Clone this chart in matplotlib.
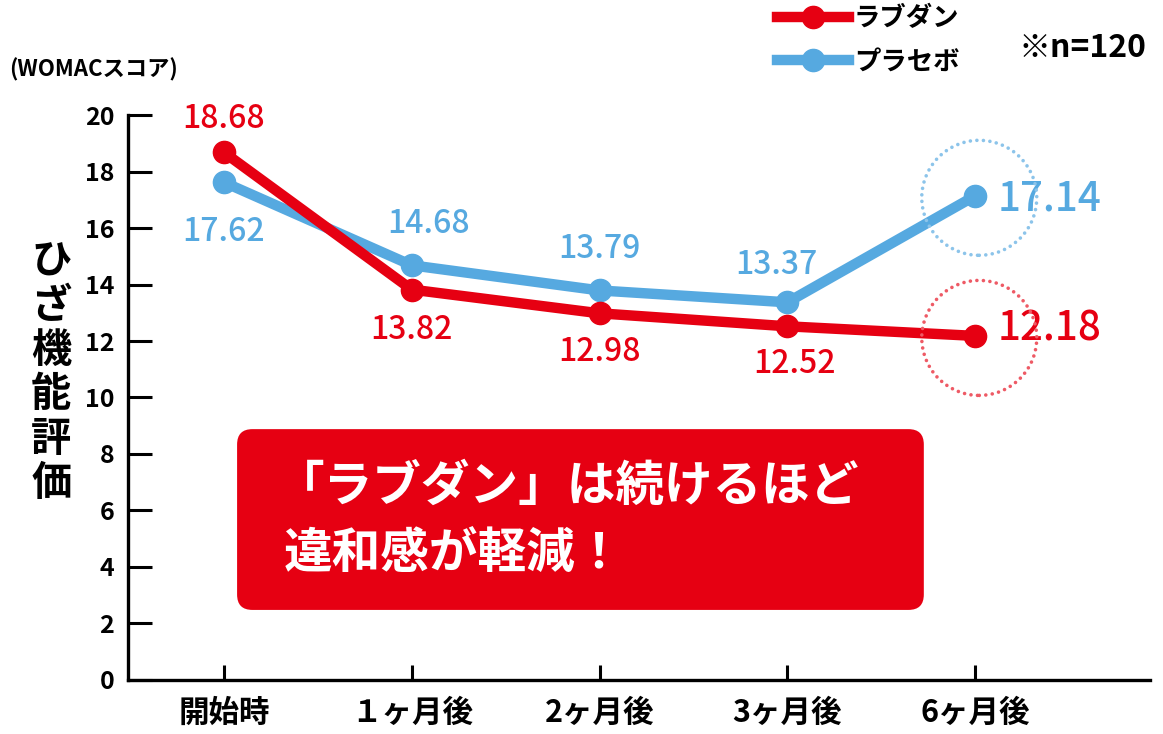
import matplotlib.pyplot as plt
import matplotlib.transforms as mtrans
from matplotlib.patches import Circle, FancyBboxPatch

plt.rcParams['font.family'] = ['Noto Sans CJK JP', 'DejaVu Sans']

# データ
periods = ['開始時', '１ヶ月後', '2ヶ月後', '3ヶ月後', '6ヶ月後']
rabudan = [18.68, 13.82, 12.98, 12.52, 12.18]
placebo = [17.62, 14.68, 13.79, 13.37, 17.14]
yticks = [0, 2, 4, 6, 8, 10, 12, 14, 16, 18, 20]

red = '#E60012'
blue = '#56A9E0'

fig = plt.figure(figsize=(11.63, 7.34), dpi=100)
ax = fig.add_axes([0.1101, 0.0736, 0.8787, 0.7697])

x = list(range(len(periods)))
ax.plot(x, placebo, color=blue, lw=7.5, marker='o', ms=16, label='プラセボ', zorder=3)
ax.plot(x, rabudan, color=red, lw=7.5, marker='o', ms=16, label='ラブダン', zorder=4)

ax.set_xlim(-0.51, 4.93)
ax.set_ylim(0, 20)
ax.set_xticks(x)
ax.set_xticklabels(periods, fontsize=22, fontweight='bold')
ax.set_yticks(yticks)
ax.set_yticklabels([str(v) for v in yticks], fontsize=18, fontweight='bold')
ax.tick_params(axis='y', direction='in', length=17, width=2.2, pad=10)
ax.tick_params(axis='x', direction='in', length=11, width=2.2, pad=12)
for s in ['top', 'right']:
    ax.spines[s].set_visible(False)
for s in ['left', 'bottom']:
    ax.spines[s].set_linewidth(2.4)

# 数値ラベル (オフセットはポイント)
red_off = [(0, 24), (0, -29), (0, -28), (5, -27), (16, 5)]
blue_off = [(0, -36), (12, 30), (0, 30), (-8, 27), (16, -2)]
for i in range(len(x)):
    big = i == 4
    ax.annotate(f'{rabudan[i]:.2f}', (x[i], rabudan[i]), xytext=red_off[i],
                textcoords='offset points', color=red, fontweight='medium',
                fontsize=29 if big else 23,
                ha='left' if big else 'center', va='center', zorder=5)
    ax.annotate(f'{placebo[i]:.2f}', (x[i], placebo[i]), xytext=blue_off[i],
                textcoords='offset points', color=blue, fontweight='medium',
                fontsize=29 if big else 23,
                ha='left' if big else 'center', va='center', zorder=5)

# 点線の丸
for vals, c in [(placebo, '#8CC4EA'), (rabudan, '#EE5A65')]:
    tr = fig.dpi_scale_trans + mtrans.ScaledTranslation(x[-1], vals[-1], ax.transData)
    circ = Circle((0.04, -0.02), radius=0.575, transform=tr, fill=False,
                  edgecolor=c, lw=2.6, linestyle=(0, (0.01, 1.8)), capstyle='round',
                  zorder=2)
    fig.add_artist(circ)

# 赤いボックス
box = FancyBboxPatch((0.1067, 0.124), 0.672, 0.320, transform=ax.transAxes,
                     boxstyle='round,pad=0,rounding_size=0.015', mutation_aspect=1.81,
                     facecolor=red, edgecolor='none', zorder=6)
ax.add_patch(box)
ax.text(0.145, 0.342, '「ラブダン」は続けるほど', transform=ax.transAxes, color='white',
        fontsize=35, fontweight='bold', va='center', ha='left', zorder=7)
ax.text(0.152, 0.222, '違和感が軽減！', transform=ax.transAxes, color='white',
        fontsize=35, fontweight='bold', va='center', ha='left', zorder=7)

# 軸ラベル
fig.text(0.044, 0.492, '\n'.join('ひざ機能評価'), fontsize=29, fontweight='bold',
         ha='center', va='center', linespacing=1.1)
fig.text(0.008, 0.905, '(WOMACスコア)', fontsize=16, fontweight='bold',
         ha='left', va='center')
fig.text(0.876, 0.934, '※n=120', fontsize=23, fontweight='bold', ha='left', va='center')

# 凡例
h, l = ax.get_legend_handles_labels()
leg = fig.legend(h[::-1], l[::-1], loc='upper left', bbox_to_anchor=(0.648, 1.025),
                 frameon=False, handlelength=2.7, handletextpad=0.2, labelspacing=0.6,
                 prop={'size': 19, 'weight': 'bold'})

fig.savefig('out.png', dpi=100)
